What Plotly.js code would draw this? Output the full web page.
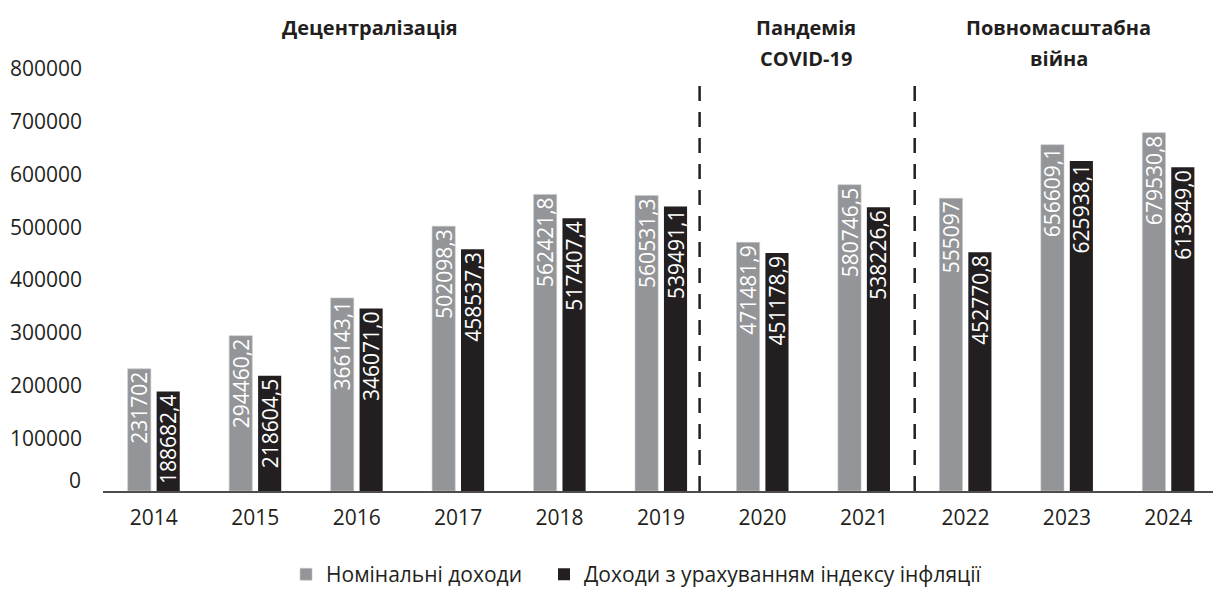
<!DOCTYPE html>
<html>
<head>
<meta charset="utf-8">
<script src="https://cdn.plot.ly/plotly-3.0.1.min.js"></script>
<style>html,body{margin:0;padding:0;background:#fff;}#chart{width:1213px;height:596px;}</style>
</head>
<body>
<div id="chart"></div>
<script>
const years = ['2014','2015','2016','2017','2018','2019','2020','2021','2022','2023','2024'];
const nominal = [231702, 294460.2, 366143.1, 502098.3, 562421.8, 560531.3, 471481.9, 580746.5, 555097, 656609.1, 679530.8];
const nominalLabels = ['231702','294460,2','366143,1','502098,3','562421,8','560531,3','471481,9','580746,5','555097','656609,1','679530,8'];
const real = [188682.4, 218604.5, 346071.0, 458537.3, 517407.4, 539491.1, 451178.9, 538226.6, 452770.8, 625938.1, 613849.0];
const realLabels = ['188682,4','218604,5','346071,0','458537,3','517407,4','539491,1','451178,9','538226,6','452770,8','625938,1','613849,0'];
const seriesNames = ['Номінальні доходи', 'Доходи з урахуванням індексу інфляції'];
const yTicks = [0, 100000, 200000, 300000, 400000, 500000, 600000, 700000, 800000];
const periodLabels = [
  {lines: ['Децентралізація'], x: 2.13},
  {lines: ['Пандемія', 'COVID-19'], x: 6.43},
  {lines: ['Повномасштабна', 'війна'], x: 8.92}
];
const dividers = [{x: 5.38, top: 779000}, {x: 7.5, top: 779000}];

const FONT = '"Open Sans", "Noto Sans", sans-serif';
const TXT = '#231f20';

const traces = [
  {
    type: 'bar', name: seriesNames[0], x: years, y: nominal, legend: 'legend',
    text: nominalLabels, textposition: 'inside', insidetextanchor: 'end', textangle: -90,
    textfont: {family: FONT, size: 21, color: '#ffffff'},
    marker: {color: '#939598', line: {color: '#c8c9cb', width: 0.6}},
    cliponaxis: false
  },
  {
    type: 'bar', name: seriesNames[1], x: years, y: real, legend: 'legend2',
    text: realLabels, textposition: 'inside', insidetextanchor: 'end', textangle: -90,
    textfont: {family: FONT, size: 21, color: '#ffffff'},
    marker: {color: '#231f20'},
    cliponaxis: false
  }
];

const shapes = dividers.map(d => ({
  type: 'line', xref: 'x', yref: 'y', x0: d.x, x1: d.x, y0: 0, y1: d.top,
  line: {color: TXT, width: 2.5, dash: '15px,11px'}
}));

const lineY = [1.0474, 0.9774];
const annotations = [];
periodLabels.forEach(p => {
  p.lines.forEach((t, i) => {
    annotations.push({
      text: '<b>' + t + '</b>', xref: 'x', yref: 'paper', x: p.x, y: lineY[i],
      xanchor: 'center', yanchor: 'middle', showarrow: false,
      font: {family: FONT, size: 20, color: TXT}
    });
  });
});
// the zero tick label sits slightly raised above the axis line in the original
annotations.push({
  text: String(yTicks[0]), xref: 'paper', yref: 'paper', x: -0.018, y: 0.0248,
  xanchor: 'right', yanchor: 'middle', showarrow: false,
  font: {family: FONT, size: 21, color: TXT}
});

const legendBase = {orientation: 'h', xanchor: 'left', y: -0.235, yanchor: 'bottom',
  font: {family: FONT, size: 21, color: TXT}, bgcolor: 'rgba(0,0,0,0)'};

const layout = {
  width: 1213, height: 596,
  margin: {l: 103, r: 0, t: 48, b: 105, autoexpand: false},
  paper_bgcolor: '#ffffff', plot_bgcolor: '#ffffff',
  barmode: 'group', bargap: 0.43, bargroupgap: 0.2,
  font: {family: FONT, size: 21, color: TXT},
  showlegend: true,
  legend: Object.assign({}, legendBase, {x: 0.1649}),
  legend2: Object.assign({}, legendBase, {x: 0.3973}),
  uniformtext: {mode: 'show', minsize: 21},
  xaxis: {
    type: 'category', range: [-0.5, 10.44], showgrid: false, zeroline: false,
    showline: true, linecolor: '#4d4d4d', linewidth: 2, ticks: '',
    tickfont: {family: FONT, size: 21, color: TXT}, ticklabelstandoff: 7
  },
  yaxis: {
    range: [0, 840000], tickvals: yTicks.slice(1), ticktext: yTicks.slice(1).map(String),
    showgrid: false, zeroline: false, showline: false, ticks: '',
    tickfont: {family: FONT, size: 21, color: TXT}, ticklabelstandoff: 20
  },
  shapes: shapes,
  annotations: annotations,
  hovermode: false
};

Plotly.newPlot('chart', traces, layout, {staticPlot: true, displayModeBar: false});
</script>
</body>
</html>
